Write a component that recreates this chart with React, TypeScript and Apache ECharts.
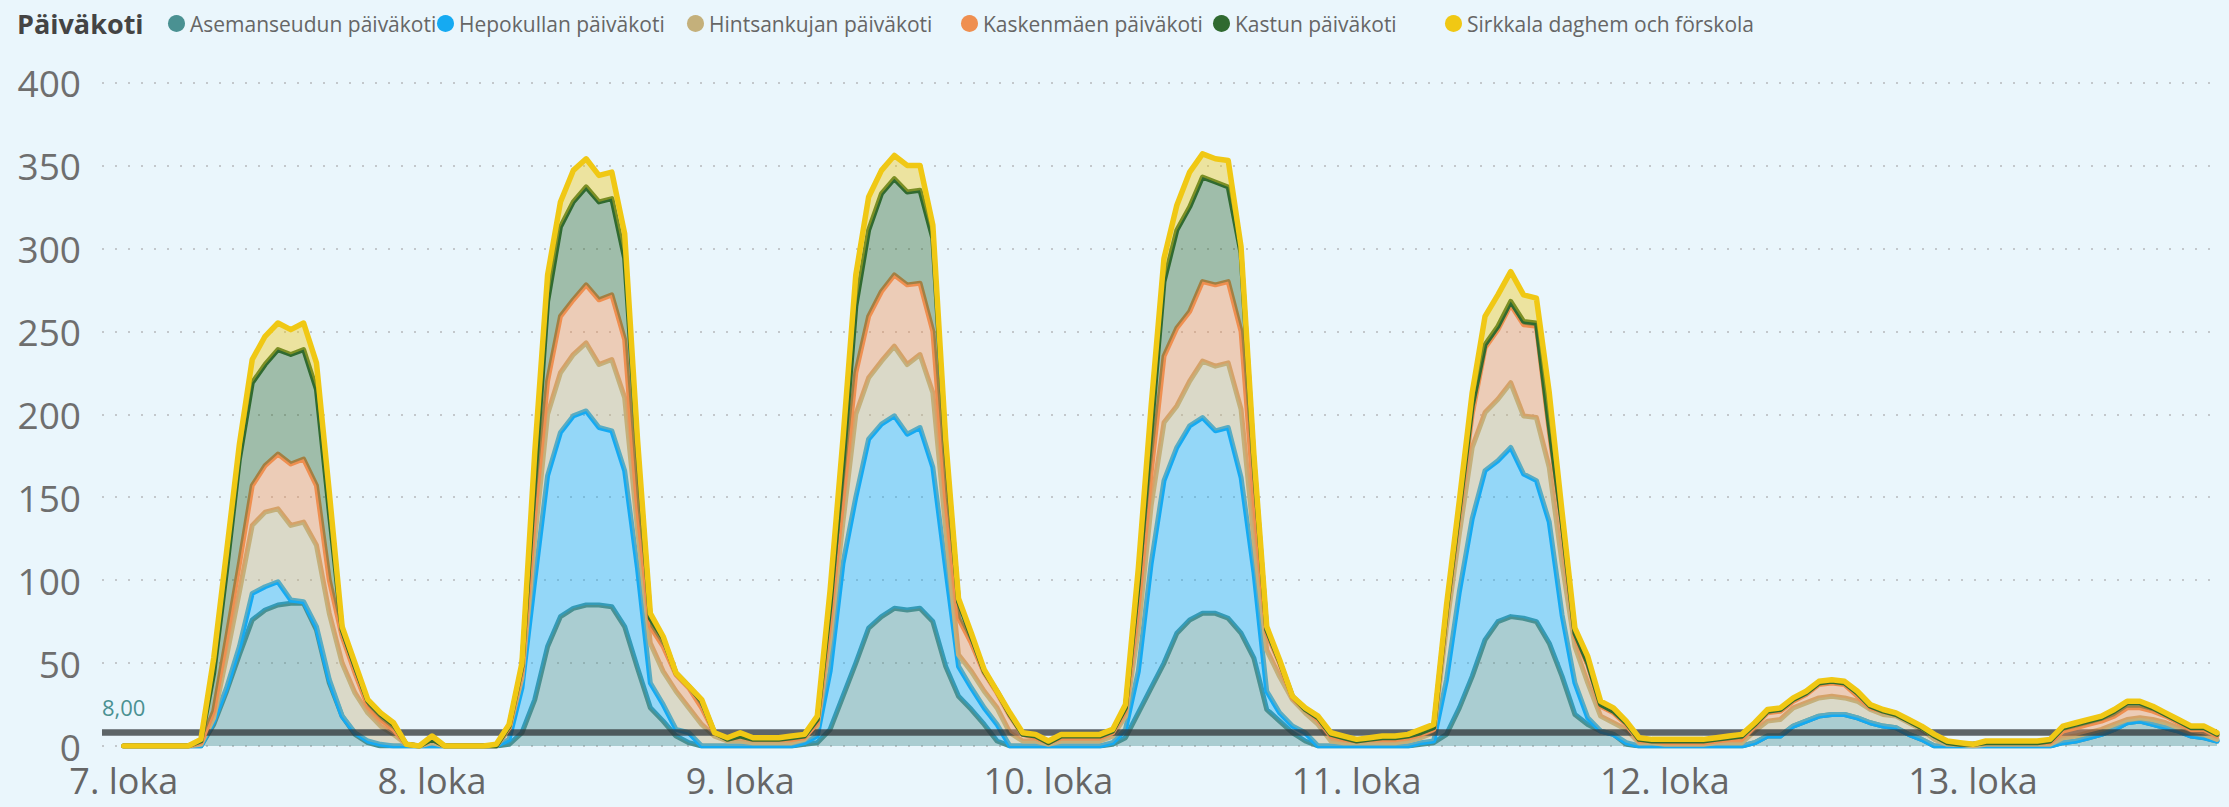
import React, { useEffect, useRef } from "react";
import * as echarts from "echarts";

// Hourly values, 7. loka 00:00 ... 13. loka 19:00 (one value per hour)
const seriesNames = [
  "Asemanseudun päiväkoti",
  "Hepokullan päiväkoti",
  "Hintsankujan päiväkoti",
  "Kaskenmäen päiväkoti",
  "Kastun päiväkoti",
  "Sirkkala daghem och förskola",
];

const asemanseutu = [
  0,0,0,0,0,0,0,13,33,55,76,82,85,86,86,70,38,18,7,2,0,0,0,0,
  0,0,0,0,0,0,1,8,28,60,78,83,85,85,84,72,47,23,15,6,2,0,0,0,
  0,0,0,0,0,1,2,10,30,50,71,78,83,82,83,75,48,30,22,13,3,0,0,0,
  0,0,0,0,0,1,5,20,35,50,68,76,80,80,77,68,53,22,15,8,3,0,0,0,
  0,0,0,0,0,1,2,7,23,42,64,75,78,77,75,62,42,19,13,9,7,1,0,0,
  0,0,0,0,0,0,0,2,6,6,12,15,18,19,19,17,14,12,11,7,4,0,0,0,
  0,0,0,0,0,0,0,2,3,5,7,10,14,15,13,11,9,6,5,3,
];

const hepokulla = [
  0,0,0,0,0,0,0,2,2,5,16,14,14,2,1,2,2,0,1,1,1,0,0,0,
  0,0,0,0,0,0,3,27,72,103,111,116,117,107,106,94,60,15,10,4,6,0,0,0,
  0,0,0,0,0,1,4,35,80,100,114,116,116,106,109,93,59,18,13,10,10,0,0,0,
  0,0,0,0,0,1,5,25,75,110,112,117,118,110,115,94,52,11,5,4,5,0,0,0,
  0,0,0,0,0,1,1,33,70,95,102,97,102,87,85,73,37,19,4,0,0,1,0,0,
  0,0,0,0,0,0,0,0,0,0,0,0,0,0,0,0,0,0,0,0,0,0,0,0,
  0,0,0,0,0,0,0,0,0,0,0,0,0,0,0,0,0,0,0,0,
];

const hintsankuja = [
  0,0,0,0,0,0,1,2,19,33,41,45,44,45,48,49,40,32,24,17,11,7,1,0,
  2,0,0,0,0,0,6,6,25,37,36,37,41,38,43,44,24,24,20,23,15,13,6,3,
  3,2,2,2,2,2,6,20,25,50,37,38,42,42,44,45,24,7,10,10,10,8,3,3,
  1,3,3,3,3,4,8,25,35,35,25,27,34,39,39,41,20,25,22,16,12,13,3,2,
  2,2,2,2,3,3,5,32,35,43,35,37,39,35,38,33,31,22,21,9,7,8,2,2,
  1,1,1,1,2,2,2,7,9,10,11,11,11,11,10,10,8,7,7,7,6,4,1,1,
  0,1,1,1,1,1,1,3,3,3,3,3,2,2,3,3,2,2,2,1,
];

const kaskenmaki = [
  0,0,0,0,0,0,1,4,11,17,24,28,33,37,38,36,20,16,12,4,4,3,0,0,
  2,0,0,0,0,0,1,4,15,20,34,33,35,39,39,35,13,10,15,10,12,10,2,1,
  3,2,2,2,2,1,2,10,15,25,37,42,43,48,43,37,19,22,17,11,9,10,4,2,
  1,2,2,2,2,2,3,15,20,40,47,42,48,49,49,47,25,10,8,1,2,3,3,2,
  1,2,2,2,2,2,2,8,12,20,39,42,47,55,55,22,23,6,11,6,6,3,1,1,
  1,1,1,1,1,2,2,3,5,5,4,5,8,8,8,3,1,2,1,1,1,2,1,0,
  1,1,1,1,1,1,1,4,5,5,5,5,7,6,5,4,3,2,3,2,
];

const kastu = [
  0,0,0,0,0,0,1,23,41,63,62,61,63,66,66,58,41,4,4,3,3,3,0,0,
  0,0,0,0,0,0,1,3,20,48,54,59,59,59,58,49,36,5,5,1,1,4,0,0,
  0,0,0,0,1,1,2,10,20,40,52,59,58,56,56,56,30,10,4,1,1,1,0,1,
  0,1,1,1,1,1,2,13,25,45,59,63,63,62,57,47,22,2,1,1,0,1,1,1,
  0,0,1,1,1,1,1,2,3,5,2,2,2,2,2,3,2,2,1,1,1,1,1,0,
  1,1,1,1,1,1,2,1,1,1,1,1,1,1,1,2,1,0,0,0,0,0,0,0,
  0,0,0,0,0,0,1,2,2,2,2,3,3,3,2,1,1,1,1,1,
];

const sirkkala = [
  0,0,0,0,0,0,1,9,11,9,14,17,16,15,16,16,12,2,2,1,1,1,0,0,
  2,0,0,0,0,1,1,2,17,16,15,19,17,16,16,15,5,3,1,0,0,1,0,1,
  2,1,1,1,1,1,2,9,15,19,20,14,14,16,15,8,5,2,2,1,0,1,1,1,
  1,1,1,1,1,1,2,9,15,14,15,21,14,14,16,4,4,2,1,0,1,1,1,1,
  1,1,1,1,1,2,2,3,5,8,17,19,18,16,15,20,6,3,4,2,2,1,1,1,
  1,1,1,1,1,1,1,1,1,1,1,1,1,1,1,1,1,1,1,1,1,1,1,1,
  0,1,1,1,1,1,1,1,1,1,1,1,1,1,1,1,1,1,1,1,
];

// x is measured in hours from 7. loka 00:00
const dayTicks = [0, 24, 48, 72, 96, 120, 144];
const dayLabels = ["7. loka", "8. loka", "9. loka", "10. loka", "11. loka", "12. loka", "13. loka"];
const yTicks = [0, 50, 100, 150, 200, 250, 300, 350, 400];
const referenceValue = 8;
const referenceLabel = "8,00";

const colors = ["#4A9192", "#15AAF2", "#C4B07B", "#EF8F50", "#306A30", "#F0C814"];
const allValues = [asemanseutu, hepokulla, hintsankuja, kaskenmaki, kastu, sirkkala];
const legendLefts = [163, 432, 682, 956, 1208, 1440];

const FONT = '"Open Sans", "Noto Sans", sans-serif';
const BG = "#EAF6FC";

export default function App() {
  const ref = useRef<HTMLDivElement>(null);

  useEffect(() => {
    document.body.style.margin = "0";
    document.body.style.background = BG;
    const chart = echarts.init(ref.current!, null, { renderer: "svg" });

    const series: any[] = seriesNames.map((name, i) => ({
      name,
      type: "line",
      stack: "total",
      // value first so that the stack is computed on the value (y) dimension
      data: allValues[i].map((v, t) => [v, t]),
      encode: { x: 1, y: 0 },
      showSymbol: false,
      symbol: "none",
      lineStyle: { width: i === 5 ? 5.5 : 5, color: colors[i], join: "round", cap: "round" },
      itemStyle: { color: colors[i] },
      areaStyle: { color: colors[i], opacity: 0.4 },
      z: 2 + i,
    }));
    series[5].markLine = {
      silent: true,
      symbol: "none",
      data: [{ yAxis: referenceValue }],
      lineStyle: { color: "rgba(45,50,53,0.74)", width: 6.5, type: "solid" },
      label: {
        show: true,
        position: "insideStartTop",
        formatter: referenceLabel,
        color: "#4A9192",
        fontSize: 22,
        fontFamily: FONT,
        distance: [0, 15],
      },
    };

    const option: any = {
      animation: false,
      backgroundColor: BG,
      title: {
        text: "Päiväkoti",
        left: 12,
        top: 5,
        textStyle: { fontFamily: FONT, fontSize: 27, fontWeight: "bold", color: "#444" },
      },
      legend: seriesNames.map((n, i) => ({
        data: [n],
        left: legendLefts[i],
        top: 8,
        icon: "circle",
        itemWidth: 17,
        itemHeight: 17,
        itemGap: 0,
        selectedMode: false,
        textStyle: { fontFamily: FONT, fontSize: 21, color: "#666" },
      })),
      grid: { left: 102, right: 12, top: 82.5, bottom: 61, outerBoundsMode: "none" },
      xAxis: {
        type: "value",
        min: -1.7,
        max: 163,
        axisLine: { show: false },
        axisTick: { show: false },
        splitLine: { show: false },
        axisLabel: {
          customValues: dayTicks,
          formatter: (v: number) => dayLabels[dayTicks.indexOf(v)] ?? "",
          fontFamily: FONT,
          fontSize: 36,
          lineHeight: 36,
          color: "#666",
          margin: 16,
        },
      },
      yAxis: {
        type: "value",
        min: yTicks[0],
        max: yTicks[yTicks.length - 1],
        interval: 50,
        axisLine: { show: false },
        axisTick: { show: false },
        axisLabel: { fontFamily: FONT, fontSize: 37, lineHeight: 28, color: "#6e6e6e", margin: 21 },
        splitLine: { show: true, lineStyle: { color: "#C3C8CC", width: 2, type: [2, 11] } },
      },
      series,
    };
    chart.setOption(option);
    return () => chart.dispose();
  }, []);

  return <div ref={ref} style={{ width: 2229, height: 807 }} />;
}
